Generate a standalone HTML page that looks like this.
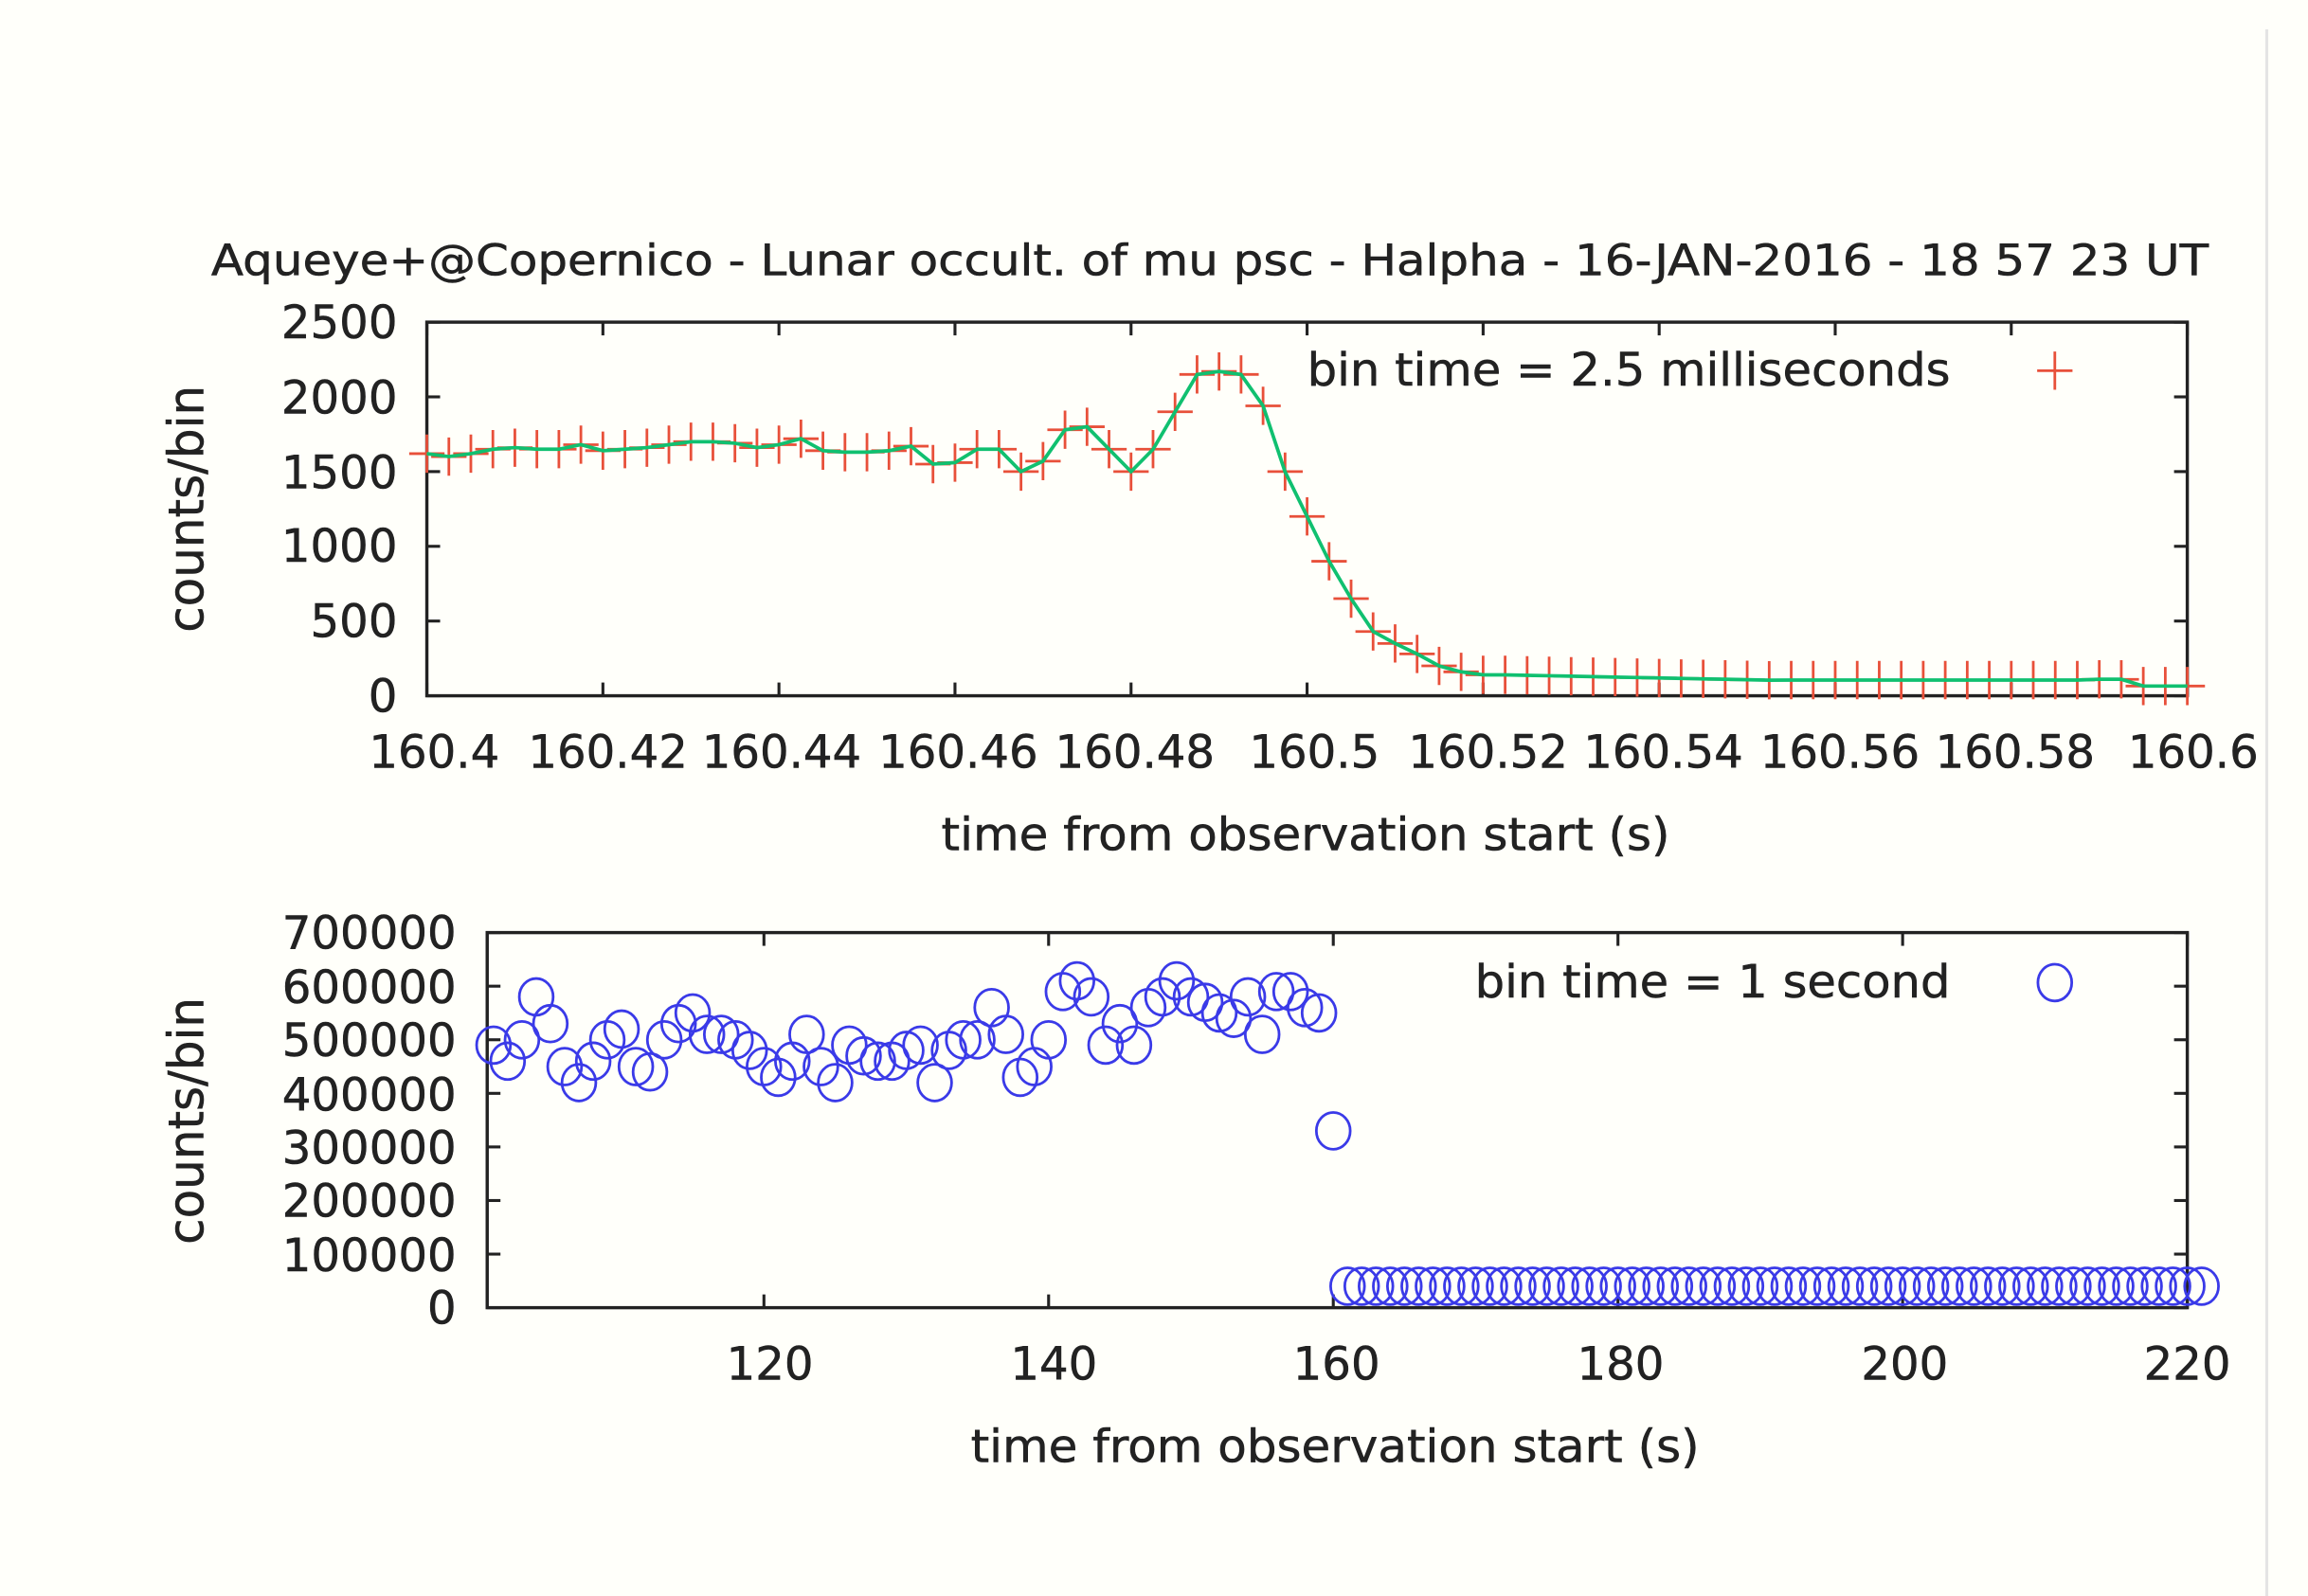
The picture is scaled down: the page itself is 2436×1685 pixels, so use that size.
<!DOCTYPE html>
<html><head><meta charset="utf-8"><style>
html,body{margin:0;padding:0;background:#fffffa;}
svg{display:block;}
text{font-family:"DejaVu Sans","Liberation Sans",sans-serif;fill:#222;stroke:#222;stroke-width:0.35;}
</style></head><body>
<svg id="s" width="2436" height="1685" viewBox="0 0 1568 1085" preserveAspectRatio="none" xmlns="http://www.w3.org/2000/svg">
<rect x="0" y="0" width="1568" height="1085" fill="#fffffa"/>
<line x1="1540" y1="20" x2="1540" y2="1085" stroke="#e4e4e4" stroke-width="2"/>
<text x="822" y="187" font-size="29" text-anchor="middle" textLength="1357" lengthAdjust="spacingAndGlyphs">Aqueye+@Copernico - Lunar occult. of mu psc - Halpha - 16-JAN-2016 - 18 57 23 UT</text>
<g font-size="31" text-anchor="end">
<text x="270" y="230">2500</text><text x="270" y="281">2000</text><text x="270" y="332">1500</text><text x="270" y="382">1000</text><text x="270" y="433">500</text><text x="270" y="484">0</text>
</g>
<g font-size="31" text-anchor="middle">
<text x="295" y="522">160.4</text><text x="413" y="522">160.42</text><text x="531" y="522">160.44</text><text x="651" y="522">160.46</text><text x="771" y="522">160.48</text><text x="893" y="522">160.5</text><text x="1011" y="522">160.52</text><text x="1130" y="522">160.54</text><text x="1250" y="522">160.56</text><text x="1369" y="522">160.58</text><text x="1490" y="522">160.6</text>
</g>
<text font-size="33" text-anchor="middle" transform="translate(138,346) rotate(-90)" textLength="168" lengthAdjust="spacingAndGlyphs">counts/bin</text>
<text x="887" y="578" font-size="31" text-anchor="middle" textLength="495" lengthAdjust="spacingAndGlyphs">time from observation start (s)</text>
<text x="1325" y="262" font-size="31" text-anchor="end" textLength="437" lengthAdjust="spacingAndGlyphs">bin time = 2.5 milliseconds</text>
<g font-size="31" text-anchor="end">
<text x="310" y="645">700000</text><text x="310" y="682">600000</text><text x="310" y="718">500000</text><text x="310" y="755">400000</text><text x="310" y="791">300000</text><text x="310" y="827">200000</text><text x="310" y="864">100000</text><text x="310" y="900">0</text>
</g>
<g font-size="31" text-anchor="middle">
<text x="523" y="938">120</text><text x="716" y="938">140</text><text x="908" y="938">160</text><text x="1101" y="938">180</text><text x="1294" y="938">200</text><text x="1486" y="938">220</text>
</g>
<text font-size="33" text-anchor="middle" transform="translate(138,762) rotate(-90)" textLength="168" lengthAdjust="spacingAndGlyphs">counts/bin</text>
<text x="907" y="994" font-size="31" text-anchor="middle" textLength="495" lengthAdjust="spacingAndGlyphs">time from observation start (s)</text>
<text x="1325" y="678" font-size="31" text-anchor="end" textLength="323" lengthAdjust="spacingAndGlyphs">bin time = 1 second</text>
<g id="g"></g>
</svg>
<script>
var g=document.getElementById('g'),h='';
var L=290,R=1486,T=219,B=473;
h+='<rect x="'+L+'" y="'+T+'" width="'+(R-L)+'" height="'+(B-T)+'" fill="none" stroke="#222" stroke-width="2.2"/>';
for(var i=0;i<=10;i++){var x=L+i*(R-L)/10;h+='<line x1="'+x+'" y1="'+B+'" x2="'+x+'" y2="'+(B-9)+'" stroke="#222" stroke-width="2"/><line x1="'+x+'" y1="'+T+'" x2="'+x+'" y2="'+(T+9)+'" stroke="#222" stroke-width="2"/>';}
for(var i=0;i<=5;i++){var y=B-i*(B-T)/5;h+='<line x1="'+L+'" y1="'+y+'" x2="'+(L+9)+'" y2="'+y+'" stroke="#222" stroke-width="2"/><line x1="'+R+'" y1="'+y+'" x2="'+(R-9)+'" y2="'+y+'" stroke="#222" stroke-width="2"/>';}
var v=[1620,1600,1620,1650,1660,1650,1650,1680,1640,1650,1660,1680,1700,1700,1690,1660,1680,1720,1640,1630,1630,1640,1670,1550,1560,1650,1650,1500,1570,1780,1800,1650,1500,1650,1900,2150,2170,2150,1940,1500,1200,900,650,430,350,280,200,160,140];
while(v.length<81){var k=v.length;v.push(k<62?140-(k-49)*3:(k<76?105:(k<78?110:65)));}
var pts=[];
for(var i=0;i<81;i++){var x=L+i*(R-L)/80,y=B-v[i]/2500*(B-T);pts.push(x.toFixed(1)+','+y.toFixed(1));
h+='<path d="M'+(x-12)+' '+y+'h24M'+x+' '+(y-13)+'v26" stroke="#e8503a" stroke-width="1.8"/>';}
h+='<polyline points="'+pts.join(' ')+'" fill="none" stroke="#10c070" stroke-width="2.4"/>';
h+='<path d="M1384 252h24M1396 239v26" stroke="#e8503a" stroke-width="1.8"/>';
L=331;R=1486;T=634;B=889;
h+='<rect x="'+L+'" y="'+T+'" width="'+(R-L)+'" height="'+(B-T)+'" fill="none" stroke="#222" stroke-width="2.2"/>';
var xs=function(t){return 519+(t-120)*(1486-519)/100;};
for(var t=120;t<=220;t+=20){var x=xs(t);h+='<line x1="'+x+'" y1="'+B+'" x2="'+x+'" y2="'+(B-9)+'" stroke="#222" stroke-width="2"/><line x1="'+x+'" y1="'+T+'" x2="'+x+'" y2="'+(T+9)+'" stroke="#222" stroke-width="2"/>';}
for(var i=0;i<=7;i++){var y=B-i*(B-T)/7;h+='<line x1="'+L+'" y1="'+y+'" x2="'+(L+9)+'" y2="'+y+'" stroke="#222" stroke-width="2"/><line x1="'+R+'" y1="'+y+'" x2="'+(R-9)+'" y2="'+y+'" stroke="#222" stroke-width="2"/>';}
var w=[490,460,500,580,530,450,420,460,500,520,450,440,500,530,550,510,510,500,480,450,430,460,510,450,420,490,470,460,460,480,490,420,480,500,500,560,510,430,450,500,590,610,580,490,530,490,560,580,610,580,570,550,540,580,510,590,590,560,550,330];
for(var i=0;i<w.length;i++){var x=xs(101+i),y=B-w[i]*1000/700000*(B-T);h+='<ellipse cx="'+x.toFixed(1)+'" cy="'+y.toFixed(1)+'" rx="11.5" ry="12.5" fill="none" stroke="#3a3ae8" stroke-width="1.8"/>';}
for(var t=161;t<=221;t++){var x=xs(t),y=B-40000/700000*(B-T);h+='<ellipse cx="'+x.toFixed(1)+'" cy="'+y.toFixed(1)+'" rx="11.5" ry="12.5" fill="none" stroke="#3a3ae8" stroke-width="1.8"/>';}
h+='<ellipse cx="1396" cy="668" rx="11.5" ry="12.5" fill="none" stroke="#3a3ae8" stroke-width="1.8"/>';
g.innerHTML=h;
</script>
</body></html>
